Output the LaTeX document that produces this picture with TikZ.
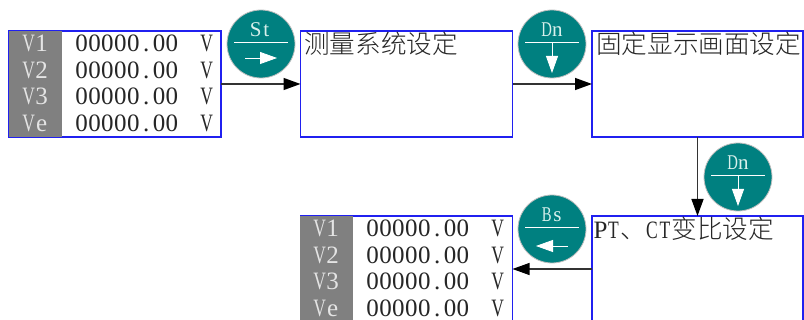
\documentclass[tikz,border=0pt]{standalone}
\usepackage{fontspec}
\usepackage{graphicx}
\usetikzlibrary{arrows.meta}
\setmainfont{Liberation Serif}
\newfontfamily\cjk[UprightFont=* Light]{Noto Sans CJK SC}
\definecolor{teal0}{HTML}{008080}
\definecolor{blue0}{HTML}{2020F0}
\definecolor{gray0}{HTML}{808080}
\definecolor{light0}{HTML}{E4E4E4}
\definecolor{pale0}{HTML}{D8F0EC}
\makeatletter
\newcommand\CharW{12.9pt}
\newcommand\MonoStr[1]{\@tfor\mc:=#1\do{\makebox[\CharW]{\mc}}}
\makeatother
\newcommand\Nar[1]{\scalebox{.7}[1]{#1}}
\tikzset{
  panel/.style={draw=blue0,line width=1.1pt,fill=white,minimum width=212pt,minimum height=106pt,inner sep=0pt,outer sep=0pt},
  grayblock/.style={fill=gray0,minimum width=53pt,inner sep=0pt,outer sep=0pt},
  val/.style={anchor=base west,inner sep=0pt,font=\fontsize{25}{25}\selectfont,text=black!85},
  lab/.style={anchor=base west,inner sep=0pt,font=\fontsize{25}{25}\selectfont,text=light0},
  title/.style={anchor=base west,inner sep=0pt,font=\cjk\fontsize{25.6}{26}\selectfont,text=black!85},
  conn/.style={line width=1.4pt,draw=black!80,-{Triangle[length=17pt,width=12pt,color=black]}},
  key/.style={circle,fill=teal0,draw=black!25,line width=.8pt,minimum size=68pt,inner sep=0pt,outer sep=0pt},
  keytext/.style={inner sep=0pt,anchor=base,font=\fontsize{21}{21}\selectfont,text=pale0},
  keyrule/.style={draw=white,line width=.8pt},
  keyarrow/.style={draw=white,line width=.8pt,-{Triangle[length=17pt,width=12pt,color=white]}},
}
\newcommand\Readout[2]{% x offset, y offset
  \node[grayblock,minimum height=#2pt,anchor=north west] at (#1) {};
}
\begin{document}
\begin{tikzpicture}[x=1pt,y=-1pt]
\useasboundingbox (0,0) rectangle (804,320);
\clip (0,0) rectangle (804,320);
% boxes
\node[panel] (b1) at (115,84) {};
\node[panel] (b2) at (406.5,84) {};
\node[panel,minimum width=211pt] (b3) at (697.5,84) {};
\node[panel,minimum width=211pt] (b4) at (697.5,269) {};
\node[panel] (b5) at (406.5,269) {};
% gray blocks
\node[grayblock,anchor=north west,minimum height=106pt] (g1) at (9,31) {};
\node[grayblock,anchor=north west,minimum height=106pt] (g2) at (300,216) {};
% readout 1
\node[lab] (l11) at (22,52) {\MonoStr{{\Nar{V}}1}};
\node[lab] (l12) at (22,78.5) {\MonoStr{{\Nar{V}}2}};
\node[lab] (l13) at (22,105) {\MonoStr{{\Nar{V}}3}};
\node[lab] (l14) at (22,131.5) {\MonoStr{{\Nar{V}}e}};
\node[val] (d11) at (75,52) {\MonoStr{00000.00}};
\node[val] (d12) at (75,78.5) {\MonoStr{00000.00}};
\node[val] (d13) at (75,105) {\MonoStr{00000.00}};
\node[val] (d14) at (75,131.5) {\MonoStr{00000.00}};
\node[val] (u11) at (200,52) {\MonoStr{{\Nar{V}}}};
\node[val] (u12) at (200,78.5) {\MonoStr{{\Nar{V}}}};
\node[val] (u13) at (200,105) {\MonoStr{{\Nar{V}}}};
\node[val] (u14) at (200,131.5) {\MonoStr{{\Nar{V}}}};
% readout 2
\node[lab] (l21) at (313,237) {\MonoStr{{\Nar{V}}1}};
\node[lab] (l22) at (313,263.5) {\MonoStr{{\Nar{V}}2}};
\node[lab] (l23) at (313,290) {\MonoStr{{\Nar{V}}3}};
\node[lab] (l24) at (313,316.5) {\MonoStr{{\Nar{V}}e}};
\node[val] (d21) at (366,237) {\MonoStr{00000.00}};
\node[val] (d22) at (366,263.5) {\MonoStr{00000.00}};
\node[val] (d23) at (366,290) {\MonoStr{00000.00}};
\node[val] (d24) at (366,316.5) {\MonoStr{00000.00}};
\node[val] (u21) at (491,237) {\MonoStr{{\Nar{V}}}};
\node[val] (u22) at (491,263.5) {\MonoStr{{\Nar{V}}}};
\node[val] (u23) at (491,290) {\MonoStr{{\Nar{V}}}};
\node[val] (u24) at (491,316.5) {\MonoStr{{\Nar{V}}}};
% titles
\node[title] (t2) at (304,54) {测量系统设定};
\node[title] (t3) at (596,54) {固定显示画面设定};
\node[title] (t4) at (594,239) {{\fontspec{Liberation Serif}\fontsize{25}{25}\selectfont\MonoStr{P{\Nar{T}}}}、{\fontspec{Liberation Serif}\fontsize{25}{25}\selectfont\MonoStr{{\Nar{C}}{\Nar{T}}}}变比设定};
% connectors
\draw[conn] (b1.east) -- (b2.west);
\draw[conn] (b2.east) -- (b3.west);
\draw[conn] (b3.south) -- (b4.north);
\draw[conn,line width=1.1pt] (b4.west) -- (b5.east);
% key buttons
\renewcommand\CharW{10.7pt}
\node[key] (k1) at (261,44) {};
\node[keytext] (k1t) at (261,37) {\MonoStr{St}};
\draw[keyrule] ([xshift=-27pt,yshift=2pt]k1.center) coordinate (k1a) -- ([xshift=27pt,yshift=2pt]k1.center);
\draw[keyarrow] ([xshift=-16pt,yshift=-14pt]k1.center) -- ([xshift=16pt,yshift=-14pt]k1.center);
\node[key] (k2) at (552,44) {};
\node[keytext] (k2t) at (552,37) {\MonoStr{{\Nar{D}}n}};
\draw[keyrule] ([xshift=-27pt,yshift=2pt]k2.center) -- ([xshift=27pt,yshift=2pt]k2.center);
\draw[keyarrow] ([yshift=1pt]k2.center) -- ([yshift=-29pt]k2.center);
\node[key] (k3) at (738,177) {};
\node[keytext] (k3t) at (738,170) {\MonoStr{{\Nar{D}}n}};
\draw[keyrule] ([xshift=-27pt,yshift=2pt]k3.center) -- ([xshift=27pt,yshift=2pt]k3.center);
\draw[keyarrow] ([yshift=1pt]k3.center) -- ([yshift=-29pt]k3.center);
\node[key] (k4) at (552,229) {};
\node[keytext] (k4t) at (552,222) {\MonoStr{{\Nar{B}}s}};
\draw[keyrule] ([xshift=-27pt,yshift=2pt]k4.center) -- ([xshift=27pt,yshift=2pt]k4.center);
\draw[keyarrow] ([xshift=16pt,yshift=-17pt]k4.center) -- ([xshift=-16pt,yshift=-17pt]k4.center);
\end{tikzpicture}
\end{document}
